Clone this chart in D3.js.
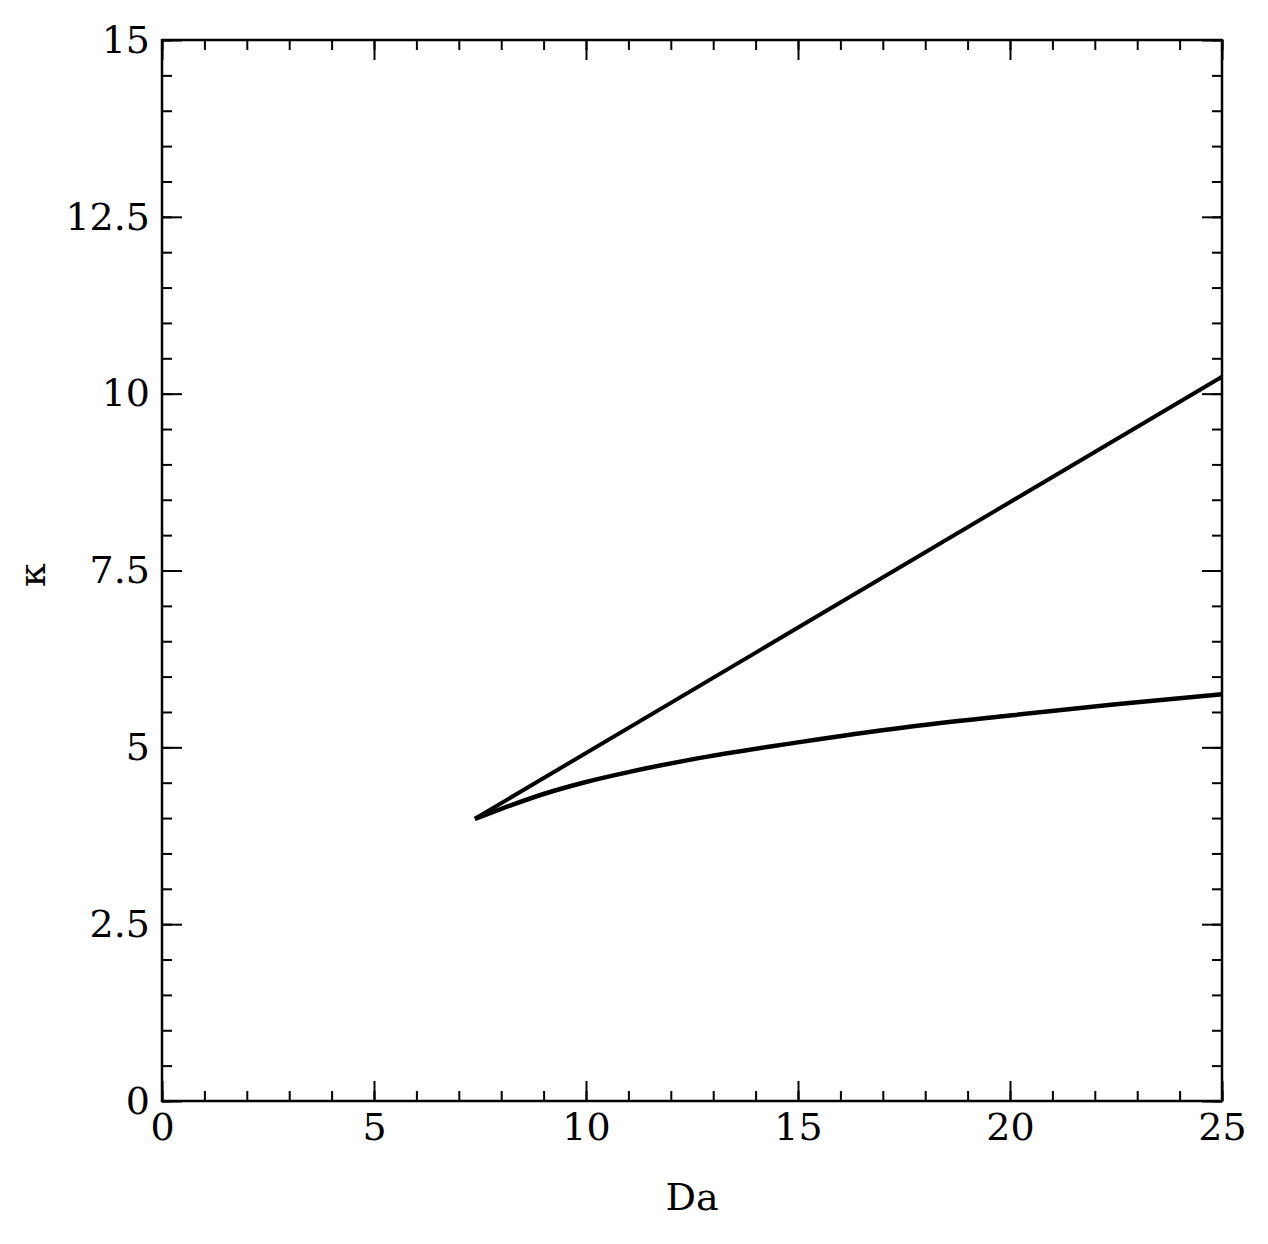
<!DOCTYPE html>
<html><head><meta charset="utf-8">
<script src="https://cdn.jsdelivr.net/npm/d3@7"></script>
<style>body{margin:0;background:#fff}text{font-family:"DejaVu Serif",serif;fill:#000}</style>
</head><body><svg id="c" width="1268" height="1244"></svg>
<script>
// upper branch (straight)
const upperDa = [7.38, 25];
const upperK = [3.99, 10.24];
// lower branch
const lowerDa = [7.38, 8, 9, 10, 11, 12.5, 15, 17.5, 20, 22.5, 25];
const lowerK = [3.99, 4.13, 4.34, 4.51, 4.65, 4.83, 5.07, 5.28, 5.45, 5.61, 5.75];
const xTicks = [0, 5, 10, 15, 20, 25];
const yTicks = [0, 2.5, 5, 7.5, 10, 12.5, 15];

const m = {l: 162, r: 1222, t: 40, b: 1101};
const svg = d3.select("#c");
const x = d3.scaleLinear().domain([0, 25]).range([m.l, m.r]);
const y = d3.scaleLinear().domain([0, 15]).range([m.b, m.t]);

function ticks(axis, scale, vals, len, showLabels) {
  return axis(scale).tickValues(vals).tickSizeInner(-len).tickSizeOuter(0)
    .tickPadding(showLabels ? 12 : 0).tickFormat(showLabels ? d3.format("") : "");
}
const minorX = d3.range(0, 25.01, 1), minorY = d3.range(0, 15.01, 0.5);
const axes = [
  [d3.axisBottom, x, m.b, 0, true], [d3.axisTop, x, m.t, 0, false],
  [d3.axisLeft, y, 0, m.l, true], [d3.axisRight, y, 0, m.r, false]
];
axes.forEach(([ax, sc, ty, tx, lab]) => {
  const mv = sc === x ? minorX : minorY, Mv = sc === x ? xTicks : yTicks;
  svg.append("g").attr("transform", `translate(${tx},${ty})`)
    .call(ticks(ax, sc, mv, 10, false)).call(g => g.select(".domain").remove())
    .selectAll("line").attr("stroke-width", 2);
  const g = svg.append("g").attr("transform", `translate(${tx},${ty})`)
    .call(ticks(ax, sc, Mv, 20, lab));
  g.select(".domain").remove();
  g.selectAll("line").attr("stroke-width", 2);
  g.selectAll("text").attr("font-size", 38).attr("font-family", "DejaVu Serif");
});
svg.append("rect").attr("x", m.l).attr("y", m.t).attr("width", m.r - m.l).attr("height", m.b - m.t)
  .attr("fill", "none").attr("stroke", "#000").attr("stroke-width", 2.5);

const line = d3.line().x(d => x(d[0])).y(d => y(d[1])).curve(d3.curveMonotoneX);
svg.append("path").attr("d", line(d3.zip(upperDa, upperK))).attr("fill", "none").attr("stroke", "#000").attr("stroke-width", 4);
svg.append("path").attr("d", line(d3.zip(lowerDa, lowerK))).attr("fill", "none").attr("stroke", "#000").attr("stroke-width", 4.5);

svg.append("text").attr("x", (m.l + m.r) / 2).attr("y", 1210).attr("text-anchor", "middle").attr("font-size", 38).text("Da");
svg.append("text").attr("transform", "translate(45,575) rotate(-90)").attr("text-anchor", "middle").attr("font-size", 38).text("κ");
</script></body></html>
